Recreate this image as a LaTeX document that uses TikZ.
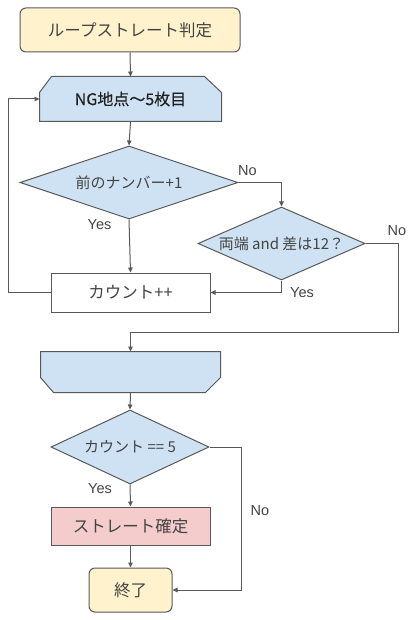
\documentclass[tikz,border=0pt]{standalone}
\usepackage{fontspec}
\setmainfont{Liberation Sans}
\newfontfamily\jp{Noto Sans CJK JP}
\newfontfamily\jpb[FakeBold=0.3]{Noto Sans CJK JP}
\usetikzlibrary{shapes.geometric,arrows.meta}
\definecolor{cyel}{HTML}{FFF2CC}
\definecolor{cblu}{HTML}{CFE2F3}
\definecolor{cpnk}{HTML}{F4CCCC}
\definecolor{cline}{HTML}{595959}
\definecolor{ctxt}{HTML}{434343}
\definecolor{cdark}{HTML}{1F1F1F}
\pgfdeclarelayer{bg}
\pgfsetlayers{bg,main}
\tikzset{
  base/.style={draw=cline, line width=1pt, text=ctxt, font=\jp\fontsize{16.5}{19}\selectfont, inner sep=0pt},
  term/.style={base, fill=cyel, rounded corners=6pt},
  proc/.style={base, rectangle},
  dec/.style={base, diamond, fill=cblu, font=\jp\fontsize{15}{18}\selectfont},
  loopbox/.style={base, draw=none, text=cdark, font=\jpb\fontsize{16}{19}\selectfont},
  conn/.style={draw=cline, line width=1pt, -{Triangle[length=5pt,width=4.5pt]}},
  lbl/.style={text=ctxt, font=\fontsize{14.5}{16}\selectfont, inner sep=0pt},
}
\begin{document}
\begin{tikzpicture}[x=1pt,y=-1pt]
\useasboundingbox (0,0) rectangle (414,620);
% nodes
\node[term, minimum width=220pt, minimum height=44pt] (start) at (130,30) {ループストレート判定};
\node[loopbox, minimum width=181pt, minimum height=44pt] (ls) at (130.5,99) {NG地点〜5枚目};
\node[dec, minimum width=218pt, minimum height=73pt] (d1) at (129,182.5) {\makebox[0pt]{前のナンバー+1}};
\node[dec, minimum width=167pt, minimum height=73pt] (d2) at (281.5,243.5) {\makebox[0pt]{両端 and 差は12？}};
\node[proc, fill=white, minimum width=159pt, minimum height=39pt] (cnt) at (130.5,292.5) {カウント++};
\node[loopbox, minimum width=179pt, minimum height=40pt] (le) at (130.5,372) {};
\node[dec, minimum width=158pt, minimum height=74pt] (d3) at (130,447) {\makebox[0pt]{カウント == 5}};
\node[proc, fill=cpnk, minimum width=159pt, minimum height=38pt] (conf) at (130.5,526) {ストレート確定};
\node[term, minimum width=83pt, minimum height=44pt] (end) at (130.5,590) {終了};
% loop shapes
\begin{pgfonlayer}{bg}
\filldraw[fill=cblu, draw=cline, line width=1pt]
  ([xshift=12pt]ls.north west) -- ([xshift=-17pt]ls.north east) -- ([yshift=-16pt]ls.north east)
  -- (ls.south east) -- (ls.south west) -- ([yshift=-16pt]ls.north west) -- cycle;
\filldraw[fill=cblu, draw=cline, line width=1pt]
  (le.north west) -- (le.north east) -- ([yshift=15pt]le.south east)
  -- ([xshift=-15pt]le.south east) -- ([xshift=13pt]le.south west) -- ([yshift=15pt]le.south west) -- cycle;
\end{pgfonlayer}
% helper coordinates
\coordinate (loopL) at (8,292.5);
\coordinate (n2a) at (398,243.5);
\coordinate (n2b) at (398,332);
\coordinate (n3a) at (241,447);
% connectors
\draw[conn] (start.south) -- (ls.north);
\draw[conn] (ls.south) -- (d1.north);
\draw[conn] (d1.east) -| (d2.north);
\draw[conn] (d1.south) -- (cnt.north);
\draw[conn] (d2.south) |- (cnt.east);
\draw[conn] (cnt.west) -- (loopL) |- (ls.west);
\draw[conn] (d2.east) -- (n2a) -- (n2b) -| (le.north);
\draw[conn] (le.south) -- (d3.north);
\draw[conn] (d3.south) -- (conf.north);
\draw[conn] (conf.south) -- (end.north);
\draw[conn] (d3.east) -- (n3a) |- (end.east);
% labels
\node[lbl] (l1) at (247.5,171) {No};
\node[lbl] (l2) at (99.5,224.5) {Yes};
\node[lbl] (l3) at (397,231) {No};
\node[lbl] (l4) at (302,293) {Yes};
\node[lbl] (l5) at (100,489) {Yes};
\node[lbl] (l6) at (260,510.5) {No};
\end{tikzpicture}
\end{document}
